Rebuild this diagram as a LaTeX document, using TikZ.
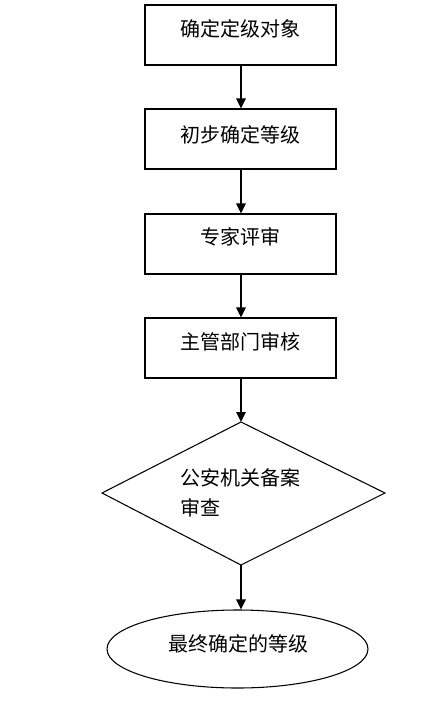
\documentclass[tikz,border=0pt]{standalone}
\usepackage{fontspec}
\newfontfamily\cjk{Noto Sans CJK SC}
\usetikzlibrary{arrows.meta,shapes.geometric}
\def\pxu{0.75pt}
\tikzset{
  stepbox/.style={draw=black, line width=0.8pt, rectangle, inner sep=0pt,
    minimum width=191*\pxu, minimum height=60*\pxu},
  endell/.style={draw=black, line width=0.8pt, ellipse, inner sep=0pt,
    minimum width=261*\pxu, minimum height=78*\pxu},
  lbl/.style={inner sep=0pt, font=\cjk\fontsize{15pt}{22.5pt}\selectfont, text=black},
  flow/.style={draw=black, line width=1.4pt, -{Triangle[length=7.5pt,width=7pt]}},
}
\begin{document}
\begin{tikzpicture}[x=0.75pt,y=-0.75pt]
\useasboundingbox (0,0) rectangle (446,719);
\fill[white] (0,0) rectangle (446,719);
% boxes
\node[stepbox] (b1) at (240.5,35) {};
\node[stepbox] (b2) at (240.5,139) {};
\node[stepbox] (b3) at (240.5,244) {};
\node[stepbox] (b4) at (240.5,348) {};
\node[lbl] (t1) at (240.5,29) {确定定级对象};
\node[lbl] (t2) at (240.5,135) {初步确定等级};
\node[lbl] (t3) at (240.5,237) {专家评审};
\node[lbl] (t4) at (240.5,342) {主管部门审核};
% diamond
\coordinate (dt) at (241,422);
\coordinate (dr) at (385,493);
\coordinate (db) at (241,565);
\coordinate (dl) at (102,493);
\draw[line width=0.8pt, line join=miter] (dt) -- (dr) -- (db) -- (dl) -- cycle;
\node[lbl, anchor=west, align=left] (t5) at (180,493) {公安机关备案\\审查};
% ellipse
\node[endell] (e) at (237.5,649) {};
\node[lbl] (t6) at (238,644) {最终确定的等级};
% connectors
\draw[flow] (b1.south -| dt) -- (b2.north -| dt);
\draw[flow] (b2.south -| dt) -- (b3.north -| dt);
\draw[flow] (b3.south -| dt) -- (b4.north -| dt);
\draw[flow] (b4.south -| dt) -- (dt);
\draw[flow] (db) -- (db |- e.north);
\end{tikzpicture}
\end{document}
